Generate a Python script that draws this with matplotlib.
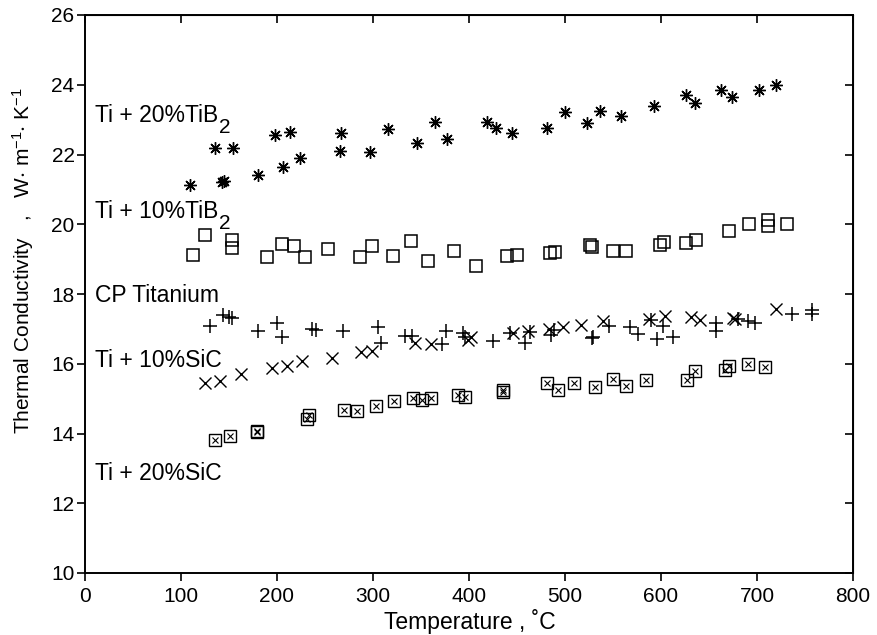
import matplotlib
matplotlib.use("Agg")
import matplotlib.pyplot as plt

plt.rcParams['font.family'] = ['Liberation Sans', 'DejaVu Sans']
plt.rcParams['mathtext.default'] = 'regular'

# Ti + 20%TiB2 (asterisks)
tib2_20_T = [109, 135, 143, 145, 154.5, 180.5, 198, 206.6, 213.5, 224, 266, 267, 297, 316,
             345.5, 365, 377, 419, 428, 444.5, 481, 500, 523, 536.5, 558, 593, 626, 635,
             662, 673.6, 702, 720]
tib2_20_k = [21.13, 22.18, 21.20, 21.24, 22.18, 21.41, 22.56, 21.65, 22.65, 21.89, 22.11, 22.62,
             22.08, 22.74, 22.33, 22.94, 22.45, 22.94, 22.75, 22.63, 22.77, 23.23, 22.89, 23.25,
             23.10, 23.39, 23.71, 23.47, 23.85, 23.64, 23.85, 23.99]

# Ti + 10%TiB2 (open squares)
tib2_10_T = [112.8, 125, 153.5, 153.5, 190, 205, 218, 229, 253.5, 286.5, 298.6, 320.5, 339.6,
             357.6, 384.7, 407, 440, 449.7, 484, 489.6, 526, 528.5, 550, 564, 599, 603.4,
             625.7, 636, 671, 691.7, 711.8, 711.8, 731]
tib2_10_k = [19.12, 19.69, 19.55, 19.31, 19.07, 19.43, 19.38, 19.05, 19.28, 19.05, 19.37, 19.09,
             19.53, 18.96, 19.22, 18.80, 19.10, 19.11, 19.17, 19.20, 19.40, 19.36, 19.23, 19.23,
             19.40, 19.48, 19.47, 19.55, 19.82, 20.00, 20.12, 19.95, 20.00]

# CP Titanium (plus)
cp_T = [130, 144, 150, 153, 180.5, 199.7, 205, 236.5, 241, 268.5, 305, 308, 333, 341, 372, 376,
        393.5, 396, 425.3, 443, 458.3, 463.5, 485.4, 489, 528, 529.5, 546, 568, 576, 590,
        595.5, 602.4, 612.8, 657, 657, 680.5, 691, 698, 736, 757, 757]
cp_k = [17.08, 17.40, 17.33, 17.32, 16.95, 17.18, 16.76, 17.01, 16.96, 16.93, 17.04, 16.59,
        16.80, 16.80, 16.58, 16.95, 16.87, 16.78, 16.66, 16.87, 16.60, 16.92, 16.82, 16.97,
        16.73, 16.78, 17.08, 17.06, 16.85, 17.25, 16.70, 17.08, 16.78, 17.18, 16.95, 17.27,
        17.23, 17.18, 17.42, 17.54, 17.43]

# Ti + 10%SiC (x)
sic_10_T = [125, 140.6, 163, 194.5, 210, 226, 257, 287, 298.6, 344, 360, 399.3, 401.7, 446,
            461, 483, 498, 517, 540, 587, 604, 631, 640.6, 675.3, 677, 720]
sic_10_k = [15.44, 15.51, 15.71, 15.87, 15.94, 16.08, 16.16, 16.33, 16.36, 16.59, 16.56, 16.68,
            16.76, 16.88, 16.95, 17.01, 17.06, 17.11, 17.23, 17.27, 17.37, 17.33, 17.25, 17.32,
            17.27, 17.57]

# Ti + 20%SiC (boxed x)
sic_20_T = [135.4, 151, 178.8, 178.8, 231, 233, 270, 283.5, 303, 321.5, 342, 351, 360.5, 389,
            395.8, 435.5, 435.5, 481, 493, 509.5, 531, 550, 564, 584, 626.7, 635.4, 666.7,
            670.8, 691, 708]
sic_20_k = [13.82, 13.93, 14.03, 14.07, 14.41, 14.53, 14.66, 14.64, 14.78, 14.92, 15.01, 14.95,
            15.02, 15.10, 15.05, 15.20, 15.24, 15.44, 15.25, 15.44, 15.32, 15.55, 15.36, 15.53,
            15.53, 15.80, 15.82, 15.94, 15.99, 15.90]

series_labels = ['Ti + 20%TiB', 'Ti + 10%TiB', 'CP Titanium', 'Ti + 10%SiC', 'Ti + 20%SiC']
series_subs = ['2', '2', '', '', '']
label_y = [22.93, 20.17, 17.78, 15.90, 12.67]

x_ticks = [0, 100, 200, 300, 400, 500, 600, 700, 800]
y_ticks = [10, 12, 14, 16, 18, 20, 22, 24, 26]

fig = plt.figure(figsize=(8.77, 6.35), dpi=100)
ax = fig.add_axes([85/877, 1-573/635, (853-85)/877, (573-15)/635])

ax.plot(tib2_20_T, tib2_20_k, linestyle='none', marker=(8, 2, 0), ms=9, mew=1.0, color='black')
ax.plot(tib2_10_T, tib2_10_k, linestyle='none', marker='s', ms=9, mew=1.1, mfc='none', mec='black')
ax.plot(cp_T, cp_k, linestyle='none', marker='+', ms=10, mew=1.1, color='black')
ax.plot(sic_10_T, sic_10_k, linestyle='none', marker='x', ms=8, mew=1.0, color='black')
ax.plot(sic_20_T, sic_20_k, linestyle='none', marker='s', ms=8, mew=1.0, mfc='none', mec='black')
ax.plot(sic_20_T, sic_20_k, linestyle='none', marker='x', ms=5, mew=0.8, color='black')

for lab, sub, yy in zip(series_labels, series_subs, label_y):
    t = ax.text(10, yy, lab, fontsize=16.5, ha='left', va='baseline')
    if sub:
        ax.annotate(sub, xy=(1, 0), xycoords=t, xytext=(1, -4), textcoords='offset points',
                    fontsize=15, ha='left', va='baseline')

ax.set_xlim(0, 800)
ax.set_ylim(10, 26)
ax.set_xticks(x_ticks)
ax.set_yticks(y_ticks)
ax.tick_params(direction='out', length=6, width=1.2, labelsize=15)
ax.tick_params(axis='y', pad=1.5)
ax.tick_params(axis='x', pad=4)
for s in ax.spines.values():
    s.set_linewidth(1.4)

top = ax.secondary_xaxis('top')
top.set_xticks(x_ticks)
top.set_xticklabels([])
top.tick_params(direction='in', length=6, width=1.2)
right = ax.secondary_yaxis('right')
right.set_yticks(y_ticks)
right.set_yticklabels([])
right.tick_params(direction='in', length=6, width=1.2)

fig.text(470/877, 1-621/635, 'Temperature , \u02daC', fontsize=16.5, ha='center', va='center')
fig.text(23/877, 1-261/635, 'Thermal Conductivity   ,   W$\\cdot$ m$^{-1}$$\\cdot$ K$^{-1}$',
         fontsize=15, rotation=90, ha='center', va='center')

fig.savefig('out.png', dpi=100)
